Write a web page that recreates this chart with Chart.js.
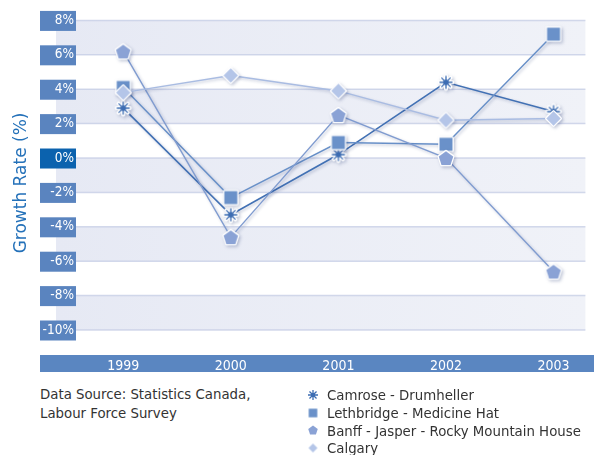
<!DOCTYPE html>
<html>
<head>
<meta charset="utf-8">
<script src="https://cdn.jsdelivr.net/npm/chart.js@4"></script>
<style>
  html, body { margin:0; padding:0; background:#fff; overflow:hidden; }
  #wrap { position:relative; width:594px; height:455px; }
  #box { position:absolute; left:0; top:0; width:594px; height:380px; }
  .txt { position:absolute; font-family:"DejaVu Sans Condensed","DejaVu Sans",sans-serif; font-size:14.8px; color:#333; white-space:nowrap; }
  #src { left:40px; top:383.5px; line-height:19px; }
  #legend { left:304px; top:386px; }
  #legend div { display:flex; align-items:center; height:17.7px; }
  #legend canvas { width:18px; height:18px; margin-right:5px; }
</style>
</head>
<body>
<div id="wrap">
  <div id="box"><canvas id="growth"></canvas></div>
  <div id="src" class="txt">Data Source: Statistics Canada,<br>Labour Force Survey</div>
  <div id="legend" class="txt"></div>
</div>
<script>
const years = [1999, 2000, 2001, 2002, 2003];
const camrose = [2.9, -3.3, 0.2, 4.4, 2.7];
const lethbridge = [4.1, -2.3, 0.9, 0.8, 7.2];
const banff = [6.2, -4.6, 2.5, 0.0, -6.6];
const calgary = [3.8, 4.8, 3.9, 2.2, 2.3];
const yTicks = [8, 6, 4, 2, 0, -2, -4, -6, -8, -10];
const names = ["Camrose - Drumheller", "Lethbridge - Medicine Hat", "Banff - Jasper - Rocky Mountain House", "Calgary"];

// marker shapes, drawn once into small canvases
function marker(kind, color, r, outline) {
  const c = document.createElement("canvas");
  const s = Math.ceil(r * 2 + outline * 2 + 4);
  c.width = s; c.height = s;
  const ctx = c.getContext("2d");
  ctx.translate(s / 2, s / 2);
  ctx.lineJoin = "round";
  if (kind === "star") {
    const spokes = () => {
      ctx.beginPath();
      for (let i = 0; i < 8; i++) {
        const a = i * Math.PI / 4;
        ctx.moveTo(0, 0);
        ctx.lineTo(Math.cos(a) * r, Math.sin(a) * r);
      }
    };
    if (outline) {
      ctx.strokeStyle = "#fff"; ctx.lineWidth = 1.4 + outline * 2; ctx.lineCap = "round";
      spokes(); ctx.stroke();
      ctx.beginPath(); ctx.arc(0, 0, r * 0.42 + outline, 0, Math.PI * 2); ctx.fillStyle = "#fff"; ctx.fill();
    }
    ctx.strokeStyle = color; ctx.lineWidth = 1.3; ctx.lineCap = "butt";
    spokes(); ctx.stroke();
    ctx.beginPath(); ctx.arc(0, 0, r * 0.42, 0, Math.PI * 2); ctx.fillStyle = color; ctx.fill();
    return c;
  }
  ctx.beginPath();
  if (kind === "rect") {
    ctx.rect(-r, -r, r * 2, r * 2);
  } else if (kind === "diamond") {
    ctx.moveTo(0, -r); ctx.lineTo(r, 0); ctx.lineTo(0, r); ctx.lineTo(-r, 0); ctx.closePath();
  } else {
    for (let i = 0; i < 5; i++) {
      const a = -Math.PI / 2 + i * 2 * Math.PI / 5;
      ctx[i ? "lineTo" : "moveTo"](Math.cos(a) * r, Math.sin(a) * r + r * 0.1);
    }
    ctx.closePath();
  }
  if (outline) { ctx.strokeStyle = "#fff"; ctx.lineWidth = outline * 2; ctx.stroke(); }
  ctx.fillStyle = color; ctx.fill();
  return c;
}

const markColors = ["#3d6db3", "#6a91c9", "#8aa2d5", "#b4c5e8"];
const lineColors = ["#4271b4", "#6890c8", "#809cd0", "#a9bce2"];
const kinds = ["star", "rect", "pentagon", "diamond"];
const sizes = [6.5, 6.5, 7.6, 7.2];
const legSizes = [5, 4.3, 5, 4.5];

// bands start under the label boxes, 20px left of the plot area
const backdrop = {
  id: "backdrop",
  beforeDraw(chart) {
    const { ctx, chartArea: a, scales: { y } } = chart;
    const bandLeft = a.left - 20;
    ctx.save();
    const g = ctx.createLinearGradient(bandLeft, 0, a.right, 0);
    g.addColorStop(0, "#e6e9f4");
    g.addColorStop(1, "#f0f2f8");
    for (let i = 0; i < yTicks.length - 1; i += 2) {
      const t = y.getPixelForValue(yTicks[i]), b = y.getPixelForValue(yTicks[i + 1]);
      ctx.fillStyle = g;
      ctx.fillRect(bandLeft, t, a.right - bandLeft, b - t);
    }
    ctx.strokeStyle = "rgba(192,201,227,0.7)";
    ctx.lineWidth = 1.5;
    yTicks.forEach(v => {
      const p = y.getPixelForValue(v);
      ctx.beginPath(); ctx.moveTo(bandLeft, p); ctx.lineTo(a.right, p); ctx.stroke();
    });
    yTicks.forEach(v => {
      const p = y.getPixelForValue(v);
      ctx.fillStyle = v === 0 ? "#0b62ae" : "#5a84bf";
      ctx.fillRect(40, p - 9.5, 36, 20);
    });
    ctx.fillStyle = "#5a86c1";
    ctx.fillRect(40, a.bottom - 0.8, chart.width - 40, 17);
    ctx.restore();
  }
};

const shadow = {
  id: "shadow",
  beforeDatasetDraw(chart) {
    const c = chart.ctx;
    c.save();
    c.shadowColor = "rgba(30,50,110,0.28)";
    c.shadowBlur = 3;
    c.shadowOffsetX = 1.5;
    c.shadowOffsetY = 1.5;
  },
  afterDatasetDraw(chart) { chart.ctx.restore(); }
};

const series = [camrose, lethbridge, banff, calgary];
const datasets = series.map((vals, k) => ({
  label: names[k],
  data: years.map((x, i) => ({ x, y: vals[i] })),
  borderColor: lineColors[k],
  borderWidth: k === 0 ? 1.6 : 1.4,
  pointStyle: marker(kinds[k], markColors[k], sizes[k], 1.3),
  pointRadius: 7,
  tension: 0,
  order: 4 - k
}));

new Chart(document.getElementById("growth"), {
  type: "line",
  data: { datasets },
  plugins: [backdrop, shadow],
  options: {
    responsive: true,
    maintainAspectRatio: false,
    animation: false,
    layout: { padding: { top: 9.7, right: 0, bottom: 0, left: 0 } },
    plugins: { legend: { display: false }, tooltip: { enabled: false } },
    scales: {
      x: {
        type: "linear",
        min: 1998.561,
        max: 2003.296,
        afterBuildTicks: s => { s.ticks = years.map(v => ({ value: v })); },
        afterFit: s => { s.height = 24.2; },
        grid: { display: false, drawTicks: false },
        border: { display: false },
        ticks: {
          color: "#fff", padding: 2, autoSkip: false, maxRotation: 0,
          font: { family: "DejaVu Sans Condensed", size: 14 },
          callback: v => String(v)
        }
      },
      y: {
        min: -11.5,
        max: 8.6,
        afterBuildTicks: s => { s.ticks = yTicks.slice().sort((a, b) => a - b).map(v => ({ value: v })); },
        afterFit: s => { s.width = 76; },
        grid: { display: false, drawTicks: false },
        border: { display: false },
        ticks: {
          color: "#fff", padding: 2, autoSkip: false,
          font: { family: "DejaVu Sans Condensed", size: 13.5 },
          callback: v => v + "%"
        },
        title: {
          display: true, text: "Growth Rate (%)", color: "#2471b9",
          font: { family: "DejaVu Sans", size: 17 },
          padding: { top: 11, bottom: 0 }
        }
      }
    }
  }
});

const leg = document.getElementById("legend");
names.forEach((n, k) => {
  const row = document.createElement("div");
  const m = marker(kinds[k], markColors[k], legSizes[k], 0);
  const c = document.createElement("canvas");
  c.width = 18; c.height = 18;
  c.getContext("2d").drawImage(m, 9 - m.width / 2, 9 - m.height / 2);
  row.appendChild(c);
  const t = document.createElement("span");
  t.textContent = n;
  row.appendChild(t);
  leg.appendChild(row);
});
</script>
</body>
</html>
